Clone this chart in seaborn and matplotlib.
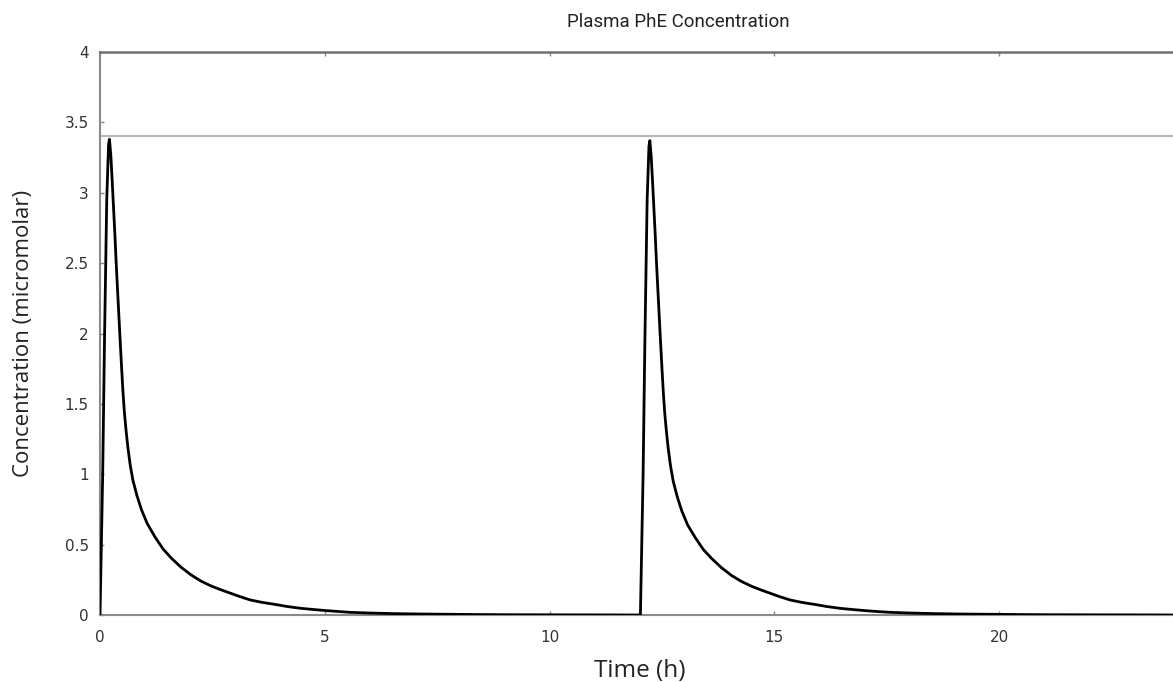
import matplotlib
matplotlib.use("Agg")
import matplotlib.pyplot as plt
import seaborn as sns
import pandas as pd

# ---- data ----
time_dose1 = [0.0, 0.03, 0.06, 0.10, 0.15, 0.19, 0.21, 0.24, 0.27, 0.30, 0.33, 0.36, 0.40,
              0.44, 0.48, 0.51, 0.54, 0.58, 0.62, 0.67, 0.73, 0.82, 0.92, 1.05, 1.22, 1.40,
              1.59, 1.80, 2.03, 2.25, 2.48, 2.70, 2.90, 3.10, 3.34, 3.60, 3.90, 4.15,
              4.45, 4.75, 5.00, 5.30, 5.56, 6.00, 6.50, 7.10, 7.80, 8.50, 9.00, 10.50, 12.00]
conc_dose1 = [0.0, 0.50, 1.00, 1.95, 2.95, 3.34, 3.38, 3.27, 3.09, 2.90, 2.71, 2.50, 2.25,
              2.00, 1.76, 1.59, 1.45, 1.31, 1.19, 1.07, 0.96, 0.85, 0.75, 0.65, 0.556, 0.47,
              0.403, 0.34, 0.284, 0.24, 0.205, 0.178, 0.155, 0.132, 0.107, 0.090, 0.075, 0.061,
              0.048, 0.039, 0.032, 0.025, 0.019, 0.014, 0.010, 0.007, 0.005, 0.003, 0.002, 0.001, 0.0]
time_dose2 = [12.02, 12.05, 12.08, 12.12, 12.17, 12.21, 12.23, 12.26, 12.29, 12.32, 12.35, 12.38, 12.42,
              12.46, 12.50, 12.53, 12.56, 12.60, 12.64, 12.69, 12.75, 12.84, 12.94, 13.07, 13.24, 13.42,
              13.61, 13.82, 14.05, 14.27, 14.50, 14.72, 14.92, 15.12, 15.36, 15.62, 15.92, 16.17,
              16.47, 16.77, 17.02, 17.32, 17.58, 18.02, 18.52, 19.12, 19.82, 20.52, 21.02, 22.52, 24.00]
conc_dose2 = [0.0, 0.50, 1.00, 1.95, 2.95, 3.33, 3.37, 3.26, 3.08, 2.89, 2.70, 2.49, 2.24,
              1.99, 1.75, 1.58, 1.44, 1.30, 1.18, 1.06, 0.95, 0.84, 0.74, 0.64, 0.55, 0.465,
              0.40, 0.337, 0.28, 0.238, 0.203, 0.176, 0.153, 0.130, 0.106, 0.089, 0.074, 0.060,
              0.047, 0.038, 0.031, 0.024, 0.019, 0.014, 0.010, 0.007, 0.005, 0.003, 0.002, 0.001, 0.0]
max_level = 3.4
x_ticks = [0, 5, 10, 15, 20]
x_tick_labels = ["0", "5", "10", "15", "20"]
y_ticks = [0, 0.5, 1, 1.5, 2, 2.5, 3, 3.5, 4]
y_tick_labels = ["0", "0.5", "1", "1.5", "2", "2.5", "3", "3.5", "4"]
title = "Plasma PhE Concentration"
x_label = "Time (h)"
y_label = "Concentration (micromolar)"

df = pd.DataFrame({
    "time": time_dose1 + time_dose2,
    "conc": conc_dose1 + conc_dose2,
})

sns.set_style("white")
plt.rcParams["font.family"] = ["DejaVu Sans"]

W, H = 1173, 682
fig = plt.figure(figsize=(W / 100, H / 100), dpi=100)
ax_left, ax_right, ax_top, ax_bottom = 100, 1179, 52, 615
ax = fig.add_axes([ax_left / W, (H - ax_bottom) / H,
                   (ax_right - ax_left) / W, (ax_bottom - ax_top) / H])

ax.axhline(max_level, color="#b8b8b8", lw=1.6, zorder=1)
sns.lineplot(data=df, x="time", y="conc", ax=ax, color="black", lw=2.0,
             estimator=None, sort=False, zorder=3)

ax.set_xlim(0, 24)
ax.set_ylim(0, 4)
ax.set_xticks(x_ticks)
ax.set_xticklabels(x_tick_labels)
ax.set_yticks(y_ticks)
ax.set_yticklabels(y_tick_labels)

ax.tick_params(axis="x", direction="in", length=3, width=1, color="#888888",
               top=True, bottom=True, pad=11, labelsize=11, labelcolor="#333333")
ax.tick_params(axis="y", direction="in", length=3, width=1, color="#888888",
               left=True, right=False, pad=8, labelsize=11, labelcolor="#333333")

ax.spines["right"].set_visible(False)
ax.spines["top"].set_color("#707070")
ax.spines["top"].set_linewidth(1.8)
ax.spines["left"].set_color("#8a8a8a")
ax.spines["left"].set_linewidth(1.5)
ax.spines["bottom"].set_color("#8a8a8a")
ax.spines["bottom"].set_linewidth(1.5)

ax.set_xlabel(x_label, fontsize=17.5, family=["Open Sans", "DejaVu Sans"], color="#222222", labelpad=10)
ax.set_ylabel(y_label, fontsize=16, family=["Open Sans", "DejaVu Sans"], color="#222222", labelpad=22)

fig.text(678 / W, 1 - 22 / H, title, ha="center", va="center", fontsize=13.5,
         family=["Roboto", "DejaVu Sans"], color="#222222")

fig.savefig("out.png", dpi=100)
